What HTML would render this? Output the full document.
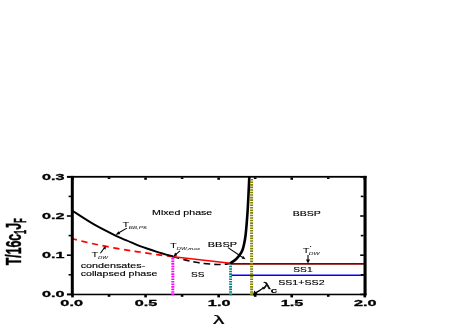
<!DOCTYPE html>
<html><head><meta charset="utf-8">
<style>
html,body{margin:0;padding:0;background:#fff;}
svg{display:block;will-change:transform;font-family:"Liberation Sans",sans-serif;}
.tk{font-weight:bold;font-size:9.6px;fill:#000;stroke:#000;stroke-width:0.3px;}
.lb{font-size:6.4px;fill:#000;stroke:#000;stroke-width:0.12px;}
.sub{font-size:3.6px;font-style:italic;fill:#000;}
</style></head><body>
<svg width="463" height="327" viewBox="0 0 463 327">
<rect width="463" height="327" fill="#fff"/>

<!-- curves -->
<g fill="none">
<line x1="231.5" y1="275.3" x2="364" y2="275.3" stroke="#0000ff" stroke-width="1.5"/>
<line x1="230.5" y1="263.9" x2="364" y2="263.9" stroke="#800000" stroke-width="1.7"/>
<path d="M72.50 238.80 C75.08 239.43 82.58 241.37 88.00 242.60 C93.42 243.83 98.50 244.95 105.00 246.20 C111.50 247.45 121.17 249.13 127.00 250.10 C132.83 251.07 135.00 251.25 140.00 252.00 C145.00 252.75 151.45 253.82 157.00 254.60 C162.55 255.38 170.58 256.35 173.30 256.70" stroke="#ff0000" stroke-width="1.7" stroke-dasharray="6.3 4.55" stroke-dashoffset="1.7"/>
<path d="M173.30 256.70 C175.42 257.27 182.22 259.17 186.00 260.10 C189.78 261.03 192.55 261.70 196.00 262.30 C199.45 262.90 203.10 263.33 206.70 263.70 C210.30 264.07 214.38 264.43 217.60 264.50 C220.82 264.57 223.85 264.30 226.00 264.10 C228.15 263.90 229.75 263.43 230.50 263.30" stroke="#000" stroke-width="1.6" stroke-dasharray="6.5 4" stroke-dashoffset="0.4"/>
<path d="M173.3 256.7 L230.5 263.3" stroke="#ff0000" stroke-width="1.6"/>
<path d="M72.50 210.80 C76.08 213.07 86.75 220.23 94.00 224.40 C101.25 228.57 110.33 233.03 116.00 235.80 C121.67 238.57 124.00 239.27 128.00 241.00 C132.00 242.73 135.17 244.40 140.00 246.20 C144.83 248.00 151.45 250.08 157.00 251.80 C162.55 253.52 170.58 255.72 173.30 256.50" stroke="#000" stroke-width="1.9"/>
<path d="M230.20 263.30 C231.17 262.62 234.40 260.62 236.00 259.20 C237.60 257.78 238.72 256.33 239.80 254.80 C240.88 253.27 241.77 251.87 242.50 250.00 C243.23 248.13 243.68 246.10 244.20 243.60 C244.72 241.10 245.17 238.60 245.60 235.00 C246.03 231.40 246.43 226.50 246.80 222.00 C247.17 217.50 247.50 213.00 247.80 208.00 C248.10 203.00 248.35 197.17 248.60 192.00 C248.85 186.83 249.18 179.50 249.30 177.00" stroke="#000" stroke-width="2.6"/>
</g>

<!-- frame -->
<g fill="#000">
<rect x="70.8" y="175.9" width="3" height="119.5"/>
<rect x="363.5" y="175.9" width="3.1" height="119.5"/>
<rect x="67" y="175.9" width="299.6" height="1.8"/>
<rect x="67" y="293.7" width="299.6" height="1.55"/>
<rect x="71.20" y="295.00" width="2.60" height="2.40"/>
<rect x="71.20" y="177.40" width="2.60" height="2.40"/>
<rect x="107.74" y="295.00" width="2.60" height="1.80"/>
<rect x="107.74" y="177.40" width="2.60" height="1.60"/>
<rect x="144.27" y="295.00" width="2.60" height="2.40"/>
<rect x="144.27" y="177.40" width="2.60" height="2.40"/>
<rect x="180.81" y="295.00" width="2.60" height="1.80"/>
<rect x="180.81" y="177.40" width="2.60" height="1.60"/>
<rect x="217.35" y="295.00" width="2.60" height="2.40"/>
<rect x="217.35" y="177.40" width="2.60" height="2.40"/>
<rect x="253.89" y="295.00" width="2.60" height="1.80"/>
<rect x="253.89" y="177.40" width="2.60" height="1.60"/>
<rect x="290.43" y="295.00" width="2.60" height="2.40"/>
<rect x="290.43" y="177.40" width="2.60" height="2.40"/>
<rect x="326.96" y="295.00" width="2.60" height="1.80"/>
<rect x="326.96" y="177.40" width="2.60" height="1.60"/>
<rect x="363.50" y="295.00" width="2.60" height="2.40"/>
<rect x="363.50" y="177.40" width="2.60" height="2.40"/>
<rect x="66.90" y="293.60" width="4.00" height="1.60"/>
<rect x="360.20" y="293.60" width="3.60" height="1.60"/>
<rect x="68.60" y="274.00" width="2.30" height="1.60"/>
<rect x="360.80" y="274.00" width="2.80" height="1.60"/>
<rect x="66.90" y="254.40" width="4.00" height="1.60"/>
<rect x="360.20" y="254.40" width="3.60" height="1.60"/>
<rect x="68.60" y="234.80" width="2.30" height="1.60"/>
<rect x="360.80" y="234.80" width="2.80" height="1.60"/>
<rect x="66.90" y="215.20" width="4.00" height="1.60"/>
<rect x="360.20" y="215.20" width="3.60" height="1.60"/>
<rect x="68.60" y="195.60" width="2.30" height="1.60"/>
<rect x="360.80" y="195.60" width="2.80" height="1.60"/>
<rect x="66.90" y="176.00" width="4.00" height="1.60"/>
<rect x="360.20" y="176.00" width="3.60" height="1.60"/>
</g>

<g fill="none">
<line x1="172.8" y1="295.3" x2="172.8" y2="257.4" stroke="#ff00ff" stroke-width="2.9" stroke-dasharray="1.6 0.95"/>
<line x1="230.6" y1="295.3" x2="230.6" y2="264.2" stroke="#008080" stroke-width="2.9" stroke-dasharray="1.6 0.95"/>
<line x1="251.6" y1="295.3" x2="251.6" y2="177.9" stroke="#808000" stroke-width="3" stroke-dasharray="1.6 0.95"/>
</g>

<!-- tick labels -->
<g class="tk">
<text x="42.1" y="180.1" textLength="22.5" lengthAdjust="spacingAndGlyphs">0.3</text>
<text x="42.1" y="219.1" textLength="22.5" lengthAdjust="spacingAndGlyphs">0.2</text>
<text x="42.1" y="258.1" textLength="22.5" lengthAdjust="spacingAndGlyphs">0.1</text>
<text x="42.1" y="297.1" textLength="22.5" lengthAdjust="spacingAndGlyphs">0.0</text>
<text x="60.35" y="305.55" textLength="22.6" lengthAdjust="spacingAndGlyphs">0.0</text>
<text x="134.75" y="305.55" textLength="22.6" lengthAdjust="spacingAndGlyphs">0.5</text>
<text x="207.85" y="305.55" textLength="22.6" lengthAdjust="spacingAndGlyphs">1.0</text>
<text x="280.75" y="305.55" textLength="22.6" lengthAdjust="spacingAndGlyphs">1.5</text>
<text x="353.95" y="305.55" textLength="22.6" lengthAdjust="spacingAndGlyphs">2.0</text>
</g>
<!-- axis labels -->
<text x="213.1" y="324.2" font-size="12.2" textLength="11.4" lengthAdjust="spacingAndGlyphs" stroke="#000" stroke-width="0.2">λ</text>
<g transform="translate(21.1,265.3) rotate(-90) scale(1,1.86)" font-weight="bold" stroke="#000" stroke-width="0.25">
<text x="0" y="0" font-size="12.3">T/16c</text>
<text x="35.5" y="0" font-size="12.3">J</text>
<g transform="translate(0,2.6) scale(1,1.22)" font-size="7.3"><text x="31.3" y="0">1</text><text x="42.5" y="0">F</text></g>
</g>

<!-- in-plot labels -->
<g class="lb">
<text x="152.1" y="214.5" textLength="60.2" lengthAdjust="spacingAndGlyphs">Mixed phase</text>
<text x="292.7" y="215.8" textLength="28.2" lengthAdjust="spacingAndGlyphs">BBSP</text>
<text x="207.8" y="246.7" textLength="29.2" lengthAdjust="spacingAndGlyphs">BBSP</text>
<text x="80.7" y="268.3" textLength="64.6" lengthAdjust="spacingAndGlyphs">condensates-</text>
<text x="80.7" y="275.6" textLength="76.8" lengthAdjust="spacingAndGlyphs">collapsed phase</text>
<text x="191" y="276.8" textLength="13.4" lengthAdjust="spacingAndGlyphs">SS</text>
<text x="293.3" y="271.5" textLength="19.3" lengthAdjust="spacingAndGlyphs">SS1</text>
<text x="278.2" y="285.2" textLength="46.4" lengthAdjust="spacingAndGlyphs">SS1+SS2</text>
<text x="122.6" y="227" textLength="6.8" lengthAdjust="spacingAndGlyphs" stroke="none">T</text>
<text x="91.5" y="257.2" textLength="6.8" lengthAdjust="spacingAndGlyphs" stroke="none">T</text>
<text x="170.0" y="247.6" textLength="6.8" lengthAdjust="spacingAndGlyphs" stroke="none">T</text>
<text x="302.8" y="253.2" textLength="6.8" lengthAdjust="spacingAndGlyphs" stroke="none">T</text>
</g>
<g class="sub">
<text x="128.8" y="228.8" textLength="18.2" lengthAdjust="spacingAndGlyphs">BB,PS</text>
<text x="98" y="258.8" textLength="10" lengthAdjust="spacingAndGlyphs">DW</text>
<text x="176.5" y="250.2" textLength="23.5" lengthAdjust="spacingAndGlyphs">DW,max</text>
<text x="308.8" y="255.3" textLength="10.8" lengthAdjust="spacingAndGlyphs">DW</text>
</g>
<circle cx="310.6" cy="246.5" r="0.6" fill="#000"/>
<!-- lambda_c -->
<text x="262.7" y="289.1" font-size="9.6" stroke="#000" stroke-width="0.35" textLength="7.8" lengthAdjust="spacingAndGlyphs">λ</text>
<text x="270.4" y="292.8" font-size="7.4" font-weight="bold" textLength="7" lengthAdjust="spacingAndGlyphs">c</text>

<!-- arrows / leader lines -->
<g stroke="#000" stroke-width="1.1" fill="#000">
<line x1="126.9" y1="228.1" x2="118" y2="233.3"/>
<polygon points="115.4,234.9 118.6,231.3 120.2,233.9" stroke="none"/>
<line x1="100.4" y1="253.3" x2="104.4" y2="247.8"/>
<polygon points="105.8,245.9 105.6,249.7 103.2,248" stroke="none"/>
<line x1="180" y1="250.8" x2="175.6" y2="254.6"/>
<polygon points="173.6,256.4 175.1,252.6 177.4,255.2" stroke="none"/>
<line x1="228" y1="247.6" x2="243.5" y2="258"/>
<polygon points="245.5,259.3 241.6,258.6 243.3,256" stroke="none"/>
<line x1="308" y1="255" x2="308" y2="261"/>
<polygon points="308,263.5 305.9,259.5 310.1,259.5" stroke="none"/>
<path d="M263.6 287 C 261.5 290.5 259 290 255.6 293" fill="none" stroke-width="1.4"/>
<polygon points="252.8,295.6 254.3,290.6 258,294.4" stroke="none"/>
</g>
</svg>
</body></html>
